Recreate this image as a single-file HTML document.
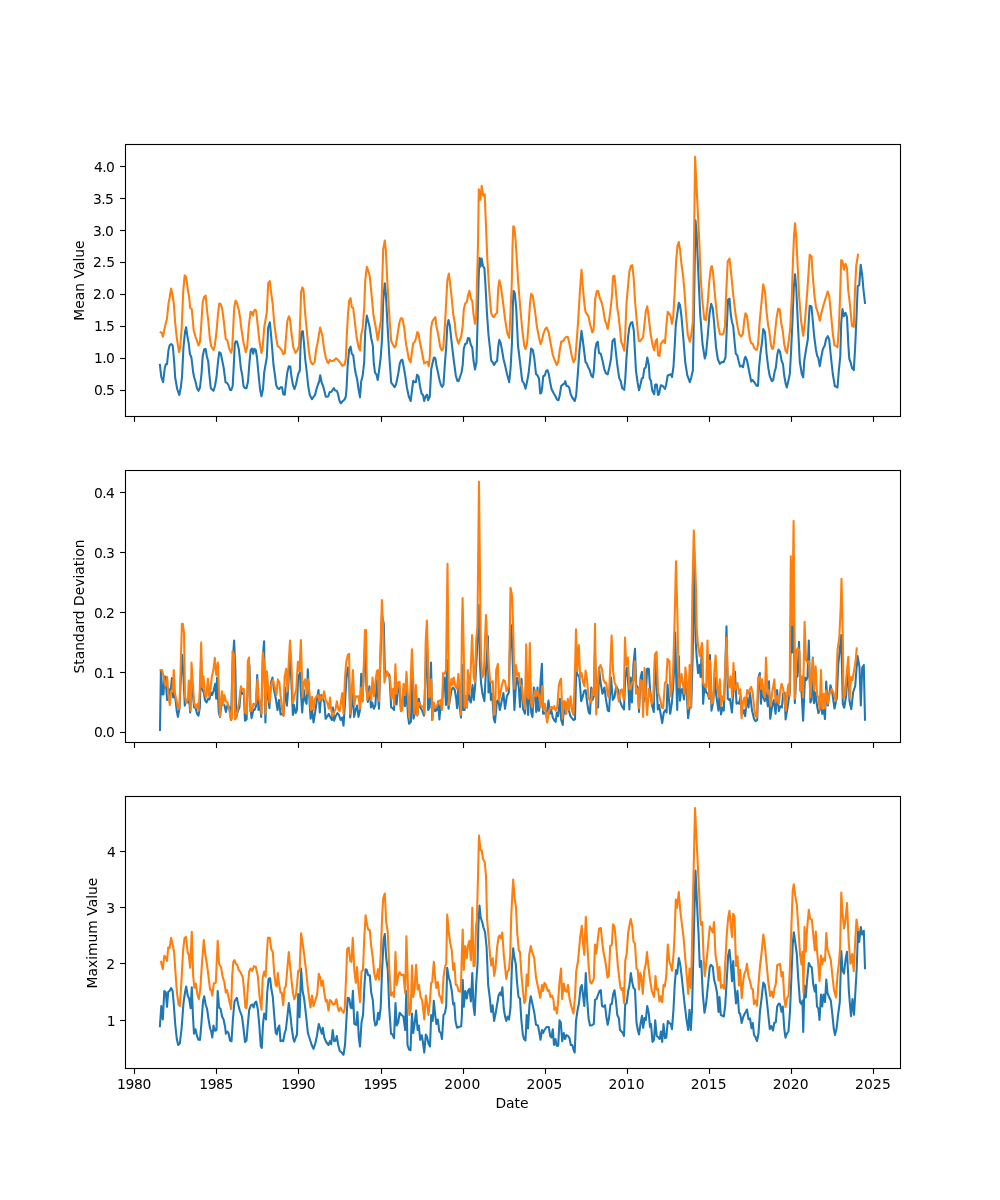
<!DOCTYPE html>
<html lang="en"><head><meta charset="utf-8"><title>Mean, Standard Deviation and Maximum Value by Date</title>
<style>html,body{margin:0;padding:0;background:#fff}body{width:1000px;height:1200px;overflow:hidden}</style></head>
<body>
<svg width="1000" height="1200" viewBox="0 0 1000 1200" style="display:block;font-family:'DejaVu Sans','Liberation Sans',sans-serif;font-size:13.89px">
<rect width="1000" height="1200" fill="#fff"/>
<clipPath id="c1"><rect x="125.5" y="144.5" width="775.0" height="272.0"/></clipPath>
<g clip-path="url(#c1)">
<polyline points="159.9,365.0 161.3,377.0 163.1,382.2 164.8,368.0 165.8,364.2 167.0,364.2 168.5,350.0 169.7,345.2 171.2,344.0 172.7,345.5 174.2,362.0 175.2,377.8 177.2,389.0 179.3,395.0 180.8,387.5 182.0,377.0 183.5,347.0 185.0,332.0 186.1,327.2 187.2,335.0 188.8,344.0 189.9,353.8 191.4,357.5 193.2,372.5 194.3,377.8 195.5,381.5 197.0,388.2 198.5,390.8 200.0,387.5 201.5,374.0 202.7,356.0 204.2,349.2 205.6,348.9 206.8,356.0 208.2,361.2 209.3,374.0 210.8,388.2 213.5,390.8 215.0,386.0 216.5,377.0 218.0,362.0 219.2,352.2 220.7,353.3 222.2,360.5 223.7,368.0 225.5,382.2 227.0,383.0 228.5,385.2 230.0,389.8 231.2,390.2 232.7,386.0 233.8,365.0 234.8,344.0 235.7,341.3 237.1,341.8 238.7,348.5 239.8,357.5 240.8,368.0 242.3,375.5 243.5,386.0 245.0,388.2 246.5,388.2 248.0,381.5 249.5,362.0 250.7,350.0 252.1,348.5 253.2,353.8 254.4,348.9 255.8,350.0 257.0,357.5 258.5,374.0 260.0,389.0 261.5,396.2 263.0,389.0 264.2,372.5 266.8,357.5 268.2,327.5 269.8,322.2 270.8,332.0 272.3,350.0 273.5,365.0 275.0,375.5 276.2,385.2 277.7,388.2 279.2,389.0 280.7,387.2 282.1,387.2 283.2,394.2 284.8,394.7 285.8,384.5 287.3,372.5 288.8,366.2 290.3,366.5 291.5,377.0 293.0,385.2 294.5,389.0 296.0,384.5 298.2,374.0 299.8,370.7 300.5,347.0 301.4,332.0 302.8,331.2 303.8,341.0 305.2,359.0 306.8,372.5 308.2,386.0 309.8,395.0 312.0,399.2 313.5,396.8 315.0,395.0 316.5,389.0 318.0,384.5 319.2,381.5 320.2,375.2 321.8,383.0 322.8,385.2 324.3,390.5 325.8,396.8 328.2,396.5 329.7,392.0 331.2,392.0 332.7,389.8 333.8,388.2 335.2,390.5 336.8,390.8 337.9,393.5 339.3,400.2 340.8,403.2 342.8,401.0 344.6,399.5 345.8,396.5 346.5,389.0 347.7,365.0 349.2,349.2 350.6,346.7 351.8,353.8 353.2,355.2 354.8,368.0 355.8,374.0 357.0,378.5 358.5,389.0 360.0,397.2 361.2,381.5 362.7,375.5 364.2,362.0 365.2,332.0 366.8,315.5 367.9,320.0 369.4,326.0 371.2,338.0 372.8,345.5 373.8,363.5 375.0,372.5 376.5,374.8 377.7,380.0 379.2,369.5 380.7,357.5 382.1,338.0 383.2,300.5 384.8,283.2 385.8,293.0 387.4,323.0 389.2,354.5 391.2,382.7 392.7,384.5 394.5,387.2 396.0,384.5 398.2,374.0 399.8,363.5 401.2,360.2 402.4,359.8 403.9,368.0 405.4,377.0 406.9,387.5 408.8,396.5 410.7,401.0 411.8,392.0 413.2,380.8 414.8,382.2 415.9,382.2 417.0,374.8 418.5,376.2 420.0,386.0 421.5,393.5 423.0,395.0 424.2,401.0 425.7,396.2 427.1,394.7 428.2,400.2 429.8,396.5 431.2,369.5 432.8,362.0 433.9,357.5 435.3,358.2 436.5,365.8 438.0,372.5 439.5,380.0 441.0,385.2 442.2,386.8 443.5,384.5 444.8,365.0 446.2,347.0 447.3,326.0 448.5,320.0 449.9,326.0 451.8,344.0 454.0,362.0 455.8,375.5 457.3,380.8 458.5,381.2 460.0,377.0 461.5,372.5 462.7,365.0 463.8,348.5 465.2,344.0 466.8,343.2 467.9,338.0 469.3,338.3 470.8,344.8 472.3,347.8 473.5,360.5 475.0,369.5 476.5,362.0 477.6,320.0 478.6,279.5 479.5,257.8 480.4,266.8 481.6,258.5 482.9,266.0 484.4,268.2 485.5,285.5 487.0,314.0 488.5,335.0 490.0,348.5 491.2,360.5 492.7,362.3 494.1,365.0 495.7,362.0 497.1,361.2 498.2,347.0 499.3,339.9 500.5,342.5 502.0,350.0 503.5,359.0 505.0,365.0 507.2,374.8 509.2,382.2 510.6,368.0 512.0,342.5 512.8,308.0 513.5,290.8 514.8,293.0 516.2,308.0 518.0,345.5 520.0,362.0 522.2,380.8 523.8,383.0 525.5,388.7 526.8,383.0 528.5,374.0 530.0,360.5 531.1,348.5 532.8,350.0 534.2,357.5 536.0,374.0 537.5,375.5 539.0,378.5 540.2,393.5 541.3,392.8 542.2,387.5 543.2,376.2 544.8,375.5 546.2,371.0 547.5,370.2 548.8,374.0 550.0,381.5 551.5,389.0 553.8,393.5 555.2,395.8 557.0,399.5 558.5,400.2 559.8,395.0 561.2,386.0 562.8,384.5 564.2,383.8 565.3,381.2 566.5,386.0 567.7,386.0 569.2,387.5 570.7,394.2 572.5,398.0 574.8,401.0 576.2,395.0 577.8,374.0 579.5,350.0 581.5,330.8 582.5,338.0 584.0,350.0 585.5,362.0 586.8,363.5 588.2,367.2 589.8,370.2 591.2,375.5 592.8,377.3 593.8,371.0 595.2,350.0 596.5,343.2 597.8,341.8 599.0,353.0 600.8,353.8 602.5,360.5 604.2,368.8 605.8,373.2 607.7,374.3 609.2,368.0 611.0,359.0 612.5,341.0 614.5,338.8 615.8,351.5 617.3,365.0 619.2,377.8 620.8,381.5 622.2,388.2 624.2,389.8 625.2,380.0 626.5,357.5 628.0,338.0 629.3,327.5 630.8,323.0 632.3,322.2 633.8,330.5 635.0,353.0 636.0,371.0 637.7,383.0 639.0,390.2 640.5,384.5 641.8,378.5 643.0,377.8 644.3,368.8 645.8,367.2 647.3,357.5 648.8,365.0 649.7,378.5 651.0,380.8 652.2,390.5 654.2,394.2 655.2,384.5 656.8,384.5 658.0,395.0 659.0,394.2 660.8,385.2 662.8,386.0 665.0,389.0 666.2,384.5 667.7,375.5 669.5,374.8 670.7,374.3 672.0,377.0 673.5,366.5 674.8,344.0 675.8,324.5 677.3,314.0 678.8,302.8 680.0,305.0 681.5,317.0 683.3,338.0 685.2,362.0 687.2,374.8 689.8,382.2 691.2,377.8 692.9,370.2 693.8,320.0 694.7,264.5 695.5,220.4 696.5,231.5 698.0,266.0 700.2,314.0 702.5,344.0 704.8,358.5 706.0,354.5 707.8,335.0 709.5,314.0 711.2,303.9 712.7,308.0 714.0,321.5 716.0,347.0 717.8,359.0 719.8,363.9 721.7,362.0 723.5,362.3 725.5,357.5 726.5,335.0 728.0,299.8 729.5,298.7 730.7,314.0 732.0,322.2 733.2,326.0 734.5,341.0 735.8,353.8 737.3,355.2 738.5,360.5 740.0,366.5 741.8,365.8 743.0,367.2 744.5,359.0 745.5,356.8 747.0,360.5 748.5,368.0 750.0,375.5 751.2,381.5 752.7,380.0 754.5,382.7 756.8,386.0 758.0,385.7 759.0,368.0 760.5,353.0 762.0,342.5 763.2,329.0 765.0,332.0 766.5,353.0 768.3,368.0 769.8,376.2 771.8,381.2 773.2,380.0 774.8,371.0 775.8,368.0 777.3,354.5 778.5,349.5 780.0,351.5 781.5,360.5 783.0,364.2 784.2,375.5 785.7,383.8 786.8,387.5 788.2,381.5 789.8,374.0 791.0,353.0 792.5,320.0 793.8,287.0 795.0,274.2 796.2,287.0 797.7,320.0 799.8,362.0 801.8,374.0 803.2,377.4 804.3,360.5 806.2,348.5 807.8,339.5 808.8,320.0 809.7,305.8 811.5,306.5 812.7,320.0 814.2,336.5 816.0,350.0 817.2,356.0 818.2,357.5 819.8,366.2 821.2,357.5 822.8,349.2 824.7,345.5 826.2,338.8 827.7,336.2 829.2,339.5 831.0,357.5 832.8,374.0 834.8,386.0 837.5,387.5 838.8,371.0 840.3,356.0 841.2,323.0 842.5,309.1 844.0,316.2 845.5,312.8 847.0,317.0 848.2,342.5 849.3,359.0 850.5,362.0 852.0,368.0 853.8,370.2 855.0,350.0 856.5,317.0 857.7,286.2 859.2,285.2 860.7,264.9 862.2,275.0 863.5,290.0 865.0,302.8" fill="none" stroke="#1f77b4" stroke-width="2.08" stroke-linejoin="round" stroke-linecap="square"/>
<polyline points="160.7,332.4 161.8,332.8 162.9,336.8 164.8,327.5 167.0,318.5 168.5,303.5 169.7,297.5 171.1,288.5 172.2,293.0 173.8,303.5 175.2,323.0 176.8,338.0 179.0,352.2 180.2,347.0 181.7,327.5 183.2,291.5 184.7,275.4 186.1,277.2 187.7,288.5 189.2,297.5 190.2,308.0 191.8,309.2 193.7,330.5 195.5,336.5 198.5,345.5 200.0,341.8 201.2,326.0 202.7,302.0 204.2,296.8 205.7,295.6 206.8,308.0 208.2,320.0 209.8,338.0 211.2,346.2 213.5,350.0 214.7,346.2 216.5,332.0 218.0,314.0 219.2,303.5 220.6,303.9 222.1,308.0 224.0,323.0 225.8,339.2 227.3,340.2 229.2,348.5 231.2,352.7 232.2,348.5 233.3,326.0 234.2,308.0 235.6,300.5 236.9,302.8 238.7,309.5 240.2,318.5 241.2,327.5 243.5,342.5 245.8,352.2 247.2,347.0 248.8,326.0 250.6,311.8 251.8,312.2 252.9,315.5 254.0,311.0 255.2,309.8 256.2,311.0 257.8,326.0 259.6,342.5 261.5,353.0 262.7,347.0 264.2,327.5 266.8,312.5 268.2,283.2 269.8,281.0 270.8,290.0 272.8,305.0 274.2,323.0 276.2,338.0 277.7,346.2 279.5,347.3 282.2,350.8 283.2,354.2 284.8,353.3 286.2,335.0 287.3,321.5 288.8,316.2 290.0,319.2 291.5,333.5 293.3,347.0 295.5,353.0 297.5,350.0 299.0,346.2 300.2,320.0 301.1,292.2 302.4,287.4 303.5,290.0 305.2,314.0 307.5,338.0 309.3,354.5 310.8,362.0 312.8,364.5 314.6,362.0 316.1,350.0 317.7,342.5 319.1,333.5 320.2,327.5 322.5,336.5 324.0,348.5 325.8,357.5 327.3,362.0 328.5,363.2 329.7,359.8 331.5,361.2 333.8,360.5 336.0,358.2 337.8,359.8 339.8,362.0 342.3,365.8 344.6,364.7 345.8,359.0 346.8,335.0 348.0,314.0 349.2,300.5 350.6,298.2 351.8,307.2 353.2,308.0 354.8,321.5 356.7,338.0 358.5,347.0 360.0,350.4 361.2,335.0 362.7,327.5 364.2,308.0 365.2,281.0 366.8,266.8 368.2,270.5 369.8,276.5 371.7,296.0 373.5,315.5 375.8,327.5 377.7,340.2 379.5,329.0 381.0,320.0 382.2,282.5 383.2,249.5 384.8,240.5 385.8,249.5 387.4,282.5 389.2,314.0 391.2,341.0 393.0,344.8 394.5,347.3 395.7,346.2 397.5,335.0 399.3,323.0 400.8,318.2 402.4,318.5 404.2,327.5 405.8,342.5 407.2,350.0 408.8,359.0 410.6,362.3 411.8,353.0 413.2,343.2 414.8,341.8 416.2,337.2 417.3,332.0 418.5,333.5 420.0,342.5 421.5,350.0 423.0,357.5 424.2,363.5 426.0,362.3 427.5,362.0 428.7,366.2 429.8,357.5 430.9,329.0 432.3,321.5 434.2,318.5 435.3,317.0 436.5,326.8 438.0,333.5 440.2,347.0 441.8,350.4 443.2,348.5 444.8,327.5 446.2,302.0 447.3,281.0 448.8,273.5 450.2,284.0 451.8,299.0 453.2,314.0 454.8,323.0 455.8,333.5 457.3,340.2 458.5,343.7 460.0,339.5 461.2,336.5 462.7,326.0 463.8,309.5 465.2,303.5 466.8,302.0 468.2,294.5 469.4,290.8 470.8,298.2 472.3,301.2 473.5,314.0 475.0,323.8 476.2,317.0 477.2,275.0 478.0,243.9 478.8,189.3 480.4,199.6 481.7,185.9 483.1,195.7 484.7,194.2 486.7,243.9 487.4,260.0 489.2,290.0 491.2,313.2 493.0,316.7 494.1,317.0 495.7,314.0 497.1,312.8 498.2,288.5 499.4,280.2 500.8,286.2 502.8,300.5 505.0,318.5 507.2,332.8 509.2,338.0 510.2,320.0 511.8,282.5 512.6,243.9 513.3,226.2 514.3,227.2 515.5,239.0 516.2,249.5 518.0,279.5 520.0,305.0 522.2,329.0 524.2,345.5 525.5,349.2 527.0,344.0 528.7,323.0 530.0,303.5 531.1,293.8 532.8,296.0 535.0,311.0 536.8,326.0 538.8,336.5 540.5,344.0 542.0,340.2 543.5,333.5 545.2,329.0 546.7,327.5 548.5,332.0 550.8,344.0 552.7,354.5 554.2,359.0 556.8,365.0 558.2,362.0 559.8,350.0 561.2,341.8 563.5,340.7 565.0,338.0 566.5,336.8 568.0,337.2 569.8,345.5 571.8,356.0 573.5,362.3 575.2,359.0 576.7,341.0 578.2,320.0 580.0,290.0 581.5,269.8 582.7,285.5 584.5,305.0 585.5,311.8 586.8,314.0 588.2,315.5 590.2,324.5 592.3,332.4 593.5,330.5 594.0,323.0 595.2,299.0 596.8,291.2 598.2,290.8 599.8,298.2 602.0,303.5 603.5,311.0 605.0,320.8 606.2,323.0 607.7,329.0 609.2,320.0 611.0,305.0 612.2,293.0 613.0,276.5 614.5,275.8 615.8,290.0 617.3,308.0 618.5,315.5 620.0,329.0 621.2,341.8 622.7,345.5 624.2,350.8 625.2,335.0 626.5,303.5 627.8,288.5 629.3,272.0 630.8,266.0 632.3,265.2 633.8,279.5 635.0,300.5 636.8,321.5 638.8,341.0 640.2,341.3 641.8,338.8 643.0,337.7 644.3,326.0 645.8,311.0 647.3,306.2 648.8,318.5 650.8,335.0 652.7,345.5 654.2,350.4 655.7,341.0 657.0,339.2 658.0,355.2 659.5,356.0 660.8,344.0 662.3,341.8 663.8,340.2 665.0,343.2 666.2,327.5 667.7,311.8 669.5,314.0 670.7,316.2 671.9,323.8 673.2,317.0 674.8,290.0 676.2,260.0 677.5,245.8 678.8,242.0 680.0,249.5 681.5,264.5 683.0,275.0 684.5,291.5 686.0,314.0 687.8,335.0 689.8,341.8 691.2,335.0 692.8,323.0 693.2,308.0 693.8,260.0 695.1,156.7 699.4,243.9 700.0,260.0 701.0,282.5 702.5,302.0 704.3,319.2 706.0,320.0 707.8,302.0 709.2,282.5 710.8,268.2 711.8,266.0 713.0,272.0 714.5,290.0 716.8,314.0 718.2,326.0 720.0,334.2 722.0,334.6 723.5,333.5 725.0,326.0 726.2,293.0 727.7,261.5 729.5,258.5 731.0,272.0 733.2,294.5 735.5,314.0 737.8,327.5 739.2,334.2 741.3,336.5 742.8,334.2 744.3,320.0 745.5,313.2 747.0,315.8 748.5,329.0 750.0,339.5 751.2,343.2 752.7,343.7 754.2,348.2 756.0,349.7 757.2,349.2 758.2,342.5 759.8,320.0 761.7,300.5 763.2,284.4 765.0,291.5 766.5,311.0 768.0,324.5 769.2,330.5 771.0,345.5 772.2,348.9 773.2,348.5 774.8,335.0 776.5,318.5 778.2,308.8 779.7,309.5 781.2,323.0 782.7,330.5 784.2,344.0 785.7,350.8 787.0,353.0 788.7,341.0 790.2,329.0 791.7,299.0 793.0,260.0 794.0,236.0 795.0,223.2 796.2,236.0 797.5,263.0 799.0,294.5 801.0,320.0 803.2,335.8 804.8,323.0 806.7,299.0 808.5,273.5 809.7,254.8 811.5,256.2 812.7,275.0 814.5,296.0 816.0,307.2 817.8,312.5 819.8,320.8 821.2,314.0 823.5,305.0 825.8,297.5 827.7,291.5 829.2,296.0 831.0,314.0 832.8,333.5 834.5,345.5 836.2,345.8 837.5,347.3 838.8,329.0 840.3,290.0 841.2,260.0 842.4,260.8 843.9,269.8 845.5,263.8 847.0,268.2 848.2,290.0 850.0,305.0 852.0,326.0 853.8,326.8 855.0,290.0 856.2,266.0 858.0,254.8" fill="none" stroke="#ff7f0e" stroke-width="2.08" stroke-linejoin="round" stroke-linecap="square"/>
</g>
<g stroke="#000" stroke-width="1.11">
<line x1="134.5" y1="416.5" x2="134.5" y2="421.9"/>
<line x1="216.5" y1="416.5" x2="216.5" y2="421.9"/>
<line x1="298.5" y1="416.5" x2="298.5" y2="421.9"/>
<line x1="381.5" y1="416.5" x2="381.5" y2="421.9"/>
<line x1="463.5" y1="416.5" x2="463.5" y2="421.9"/>
<line x1="545.5" y1="416.5" x2="545.5" y2="421.9"/>
<line x1="627.5" y1="416.5" x2="627.5" y2="421.9"/>
<line x1="709.5" y1="416.5" x2="709.5" y2="421.9"/>
<line x1="791.5" y1="416.5" x2="791.5" y2="421.9"/>
<line x1="873.5" y1="416.5" x2="873.5" y2="421.9"/>
<line x1="120.1" y1="166.5" x2="125.5" y2="166.5"/>
<line x1="120.1" y1="198.5" x2="125.5" y2="198.5"/>
<line x1="120.1" y1="230.5" x2="125.5" y2="230.5"/>
<line x1="120.1" y1="262.5" x2="125.5" y2="262.5"/>
<line x1="120.1" y1="294.5" x2="125.5" y2="294.5"/>
<line x1="120.1" y1="326.5" x2="125.5" y2="326.5"/>
<line x1="120.1" y1="358.5" x2="125.5" y2="358.5"/>
<line x1="120.1" y1="390.5" x2="125.5" y2="390.5"/>
<rect x="125.5" y="144.5" width="775.0" height="272.0" fill="none"/>
</g>
<text x="114.30" y="172" text-anchor="end" letter-spacing="-0.55">4.0</text>
<text x="113.30" y="204" text-anchor="end" letter-spacing="-0.55">3.5</text>
<text x="113.30" y="236" text-anchor="end" letter-spacing="-0.55">3.0</text>
<text x="115.15" y="267" text-anchor="end" letter-spacing="0.05">2.5</text>
<text x="114.90" y="299" text-anchor="end" letter-spacing="-0.03">2.0</text>
<text x="114.30" y="331" text-anchor="end" letter-spacing="-0.55">1.5</text>
<text x="114.30" y="363" text-anchor="end" letter-spacing="-0.55">1.0</text>
<text x="114.30" y="395" text-anchor="end" letter-spacing="-0.55">0.5</text>
<text transform="translate(84,280.5) rotate(-90)" text-anchor="middle">Mean Value</text>
<clipPath id="c2"><rect x="125.5" y="470.5" width="775.0" height="272.0"/></clipPath>
<g clip-path="url(#c2)">
<polyline points="160.0,730.0 160.9,670.0 162.5,694.4 163.5,694.4 164.4,676.2 165.4,677.5 167.1,700.0 168.1,697.5 169.8,690.0 171.0,687.5 171.9,678.1 173.1,697.5 174.4,693.8 175.6,700.0 176.6,710.0 177.9,716.9 179.4,708.8 180.9,677.5 182.2,655.0 183.5,677.5 184.8,705.6 186.2,700.0 187.8,702.5 189.0,696.2 190.2,712.5 191.5,680.0 192.5,690.0 194.1,707.5 195.6,708.1 197.1,713.8 198.5,715.6 199.8,707.5 201.2,660.0 202.2,688.8 203.8,692.5 205.0,700.0 206.5,702.5 208.1,698.8 209.4,699.4 210.9,692.5 212.2,695.0 213.8,690.0 215.2,683.8 216.2,698.8 217.1,677.5 218.8,712.5 220.0,716.9 221.6,702.5 223.1,705.0 224.4,705.0 225.9,711.9 227.5,705.0 229.4,707.5 231.0,720.0 232.5,665.0 234.1,640.6 235.4,670.0 236.2,717.5 237.8,711.2 239.4,707.5 240.9,690.0 242.1,693.8 243.8,692.5 245.0,720.6 246.6,719.4 248.1,677.5 249.4,665.0 250.6,710.0 251.6,718.1 253.4,710.0 254.6,710.0 256.0,706.2 257.2,675.0 258.5,710.0 260.0,702.5 261.2,716.9 262.9,655.0 264.1,641.2 265.4,722.5 266.9,677.5 268.1,696.2 269.4,708.1 271.0,682.5 272.5,677.5 273.8,688.8 275.6,697.5 277.5,710.0 279.0,700.0 280.6,714.4 282.2,713.8 283.5,715.6 285.0,687.5 286.9,705.6 288.1,690.0 289.8,655.0 291.2,677.5 292.9,715.0 294.0,705.0 295.6,713.1 296.9,710.0 298.1,677.5 300.0,672.5 300.6,687.5 302.2,712.5 303.8,690.0 305.0,700.0 306.6,703.8 307.8,669.4 309.1,693.8 310.6,718.8 312.1,710.0 313.5,722.5 315.0,713.1 316.5,702.5 318.5,690.0 319.8,712.5 321.2,695.0 322.8,698.8 324.4,702.5 325.6,718.8 327.5,716.2 328.8,713.8 330.4,717.5 331.9,720.0 332.9,707.5 334.1,720.6 335.6,716.2 337.5,713.1 339.0,715.0 340.6,720.0 342.1,717.5 343.5,725.6 345.0,702.5 346.5,677.5 347.8,667.5 349.1,677.5 350.2,717.5 351.5,706.2 352.8,692.5 354.1,716.9 355.6,710.0 357.1,705.6 358.5,716.9 360.0,710.0 361.2,673.8 362.5,701.2 363.8,671.2 365.2,643.8 366.5,690.0 367.8,701.9 369.4,686.2 370.9,707.5 372.2,702.5 373.8,708.8 375.4,705.0 376.9,680.0 379.0,708.8 380.4,660.0 381.9,615.0 383.8,623.8 385.0,677.5 387.1,672.5 389.4,675.0 391.2,707.5 392.8,708.1 394.0,710.0 395.4,687.5 396.6,704.4 398.1,687.5 399.6,688.8 400.9,710.0 402.2,707.5 403.5,688.8 405.0,706.2 406.5,688.8 407.9,715.0 409.1,723.8 410.9,721.9 412.1,677.5 413.5,718.8 414.8,713.8 416.2,696.2 417.5,715.0 418.8,698.8 420.4,707.5 421.9,710.0 424.0,715.6 425.4,677.5 426.9,632.5 428.1,710.0 429.6,707.5 431.0,662.5 432.2,720.0 433.8,705.0 435.2,711.2 436.9,710.0 438.1,701.2 439.4,719.4 440.9,702.5 442.2,705.0 443.5,677.5 444.4,677.5 446.0,705.0 447.1,660.0 448.5,708.8 450.0,698.8 451.5,690.0 453.1,687.5 454.8,690.0 456.2,698.8 457.1,708.1 458.4,686.2 459.6,706.2 461.0,717.5 462.2,665.0 463.1,710.0 464.6,710.0 465.6,696.2 466.9,707.5 468.1,690.0 469.6,700.0 470.9,702.5 472.5,685.0 473.8,700.0 475.2,685.0 476.9,652.5 478.8,605.0 480.0,665.0 481.0,682.5 482.5,693.8 484.4,701.2 485.6,677.5 486.9,655.0 487.9,636.2 488.5,692.5 490.0,680.0 490.9,700.0 492.2,693.8 493.8,718.8 495.0,722.5 496.9,701.2 498.4,700.0 499.8,710.0 501.9,700.0 503.4,693.1 505.0,708.8 506.9,696.2 508.8,692.5 509.8,652.5 511.4,625.4 512.8,665.0 514.4,710.0 515.9,685.0 517.2,677.5 518.8,687.5 520.0,706.9 521.5,678.8 523.1,708.8 525.0,713.8 526.2,677.5 528.1,715.0 529.8,677.5 531.2,712.5 532.5,716.9 533.8,687.5 535.0,692.5 536.2,711.9 537.5,687.5 538.5,710.6 539.1,710.6 540.6,680.0 541.9,663.8 543.1,713.8 544.8,712.5 546.0,715.0 547.2,710.0 548.5,700.6 550.0,713.8 551.2,710.0 552.8,717.5 554.1,720.0 555.6,721.9 556.9,712.5 558.1,716.2 560.0,698.8 561.2,720.0 562.8,725.0 564.0,702.5 565.6,713.8 567.2,702.5 568.8,710.0 570.4,716.2 571.9,718.1 573.5,720.0 575.0,719.4 576.2,671.2 577.8,675.0 579.4,677.5 581.2,701.2 582.5,697.5 584.0,691.2 585.6,690.0 587.1,702.5 588.8,712.5 590.0,713.8 591.2,687.5 592.5,700.0 593.8,696.2 595.0,652.5 596.6,707.5 598.1,707.5 599.0,667.5 600.6,682.5 602.5,693.8 604.4,687.5 605.9,698.8 607.8,710.6 609.1,711.2 611.0,677.5 612.8,700.0 614.4,697.5 616.2,686.2 618.1,690.0 620.0,701.2 621.9,706.2 624.0,709.4 625.2,677.5 626.9,667.5 628.5,687.5 629.4,709.4 630.6,677.5 631.9,702.5 633.4,665.0 635.0,648.8 636.2,685.0 637.8,687.5 639.0,711.9 640.6,677.5 641.9,671.9 643.4,702.5 644.6,697.5 645.6,698.8 647.1,668.8 648.8,668.8 650.0,688.8 651.9,705.0 653.8,711.9 655.0,655.0 656.2,677.5 657.8,709.4 659.0,705.0 660.6,713.8 662.2,723.1 663.8,712.5 665.4,710.0 666.6,712.5 667.5,684.4 668.8,697.5 670.2,713.8 671.9,702.5 673.1,687.5 674.4,665.0 675.2,632.5 676.2,677.5 677.2,710.0 678.8,656.2 680.0,700.6 681.2,690.0 682.5,688.8 684.0,699.4 685.4,677.5 686.9,696.2 688.1,718.1 689.6,707.5 691.2,707.5 692.8,652.5 694.1,550.0 695.6,640.0 696.6,656.2 698.1,673.1 699.4,665.0 700.6,676.9 702.1,643.8 703.1,703.8 704.6,685.0 706.2,692.5 707.8,693.8 709.0,698.8 710.0,655.0 711.5,710.6 713.1,702.5 714.8,677.5 716.2,695.0 718.5,710.6 719.8,690.0 721.0,714.4 722.5,707.5 723.8,710.6 725.0,677.5 726.5,626.2 727.8,698.8 729.1,700.0 730.0,698.8 731.9,712.5 733.5,690.0 735.0,671.9 736.5,703.8 737.9,702.5 739.1,703.8 740.6,696.2 741.9,715.0 743.8,710.0 745.2,716.2 746.9,697.5 748.5,707.5 750.0,692.5 751.9,710.0 754.0,718.8 755.6,721.2 757.2,720.0 758.5,677.5 759.8,673.1 760.9,703.8 762.1,690.0 763.5,697.5 764.8,701.2 766.2,692.5 767.8,706.2 769.0,681.2 770.2,718.8 771.9,707.5 773.8,700.0 775.6,713.8 777.1,690.0 778.8,711.2 780.4,706.2 781.9,707.5 783.1,693.8 784.6,692.5 785.6,719.4 787.1,710.0 788.8,698.8 790.0,690.0 791.0,615.0 792.2,652.5 793.6,590.0 794.8,703.1 796.2,677.5 797.5,676.2 799.0,641.9 800.4,690.0 801.6,692.5 803.1,720.6 805.0,677.5 806.2,680.0 807.5,677.5 808.8,640.6 810.4,702.5 811.6,700.0 812.9,657.5 814.1,703.1 815.6,692.5 816.9,705.0 818.4,713.1 819.6,710.0 821.0,702.5 822.2,713.8 823.8,710.0 825.0,719.0 826.2,681.5 827.8,705.5 830.5,685.2 832.2,692.0 834.5,708.5 836.8,698.0 838.2,665.0 839.8,650.0 841.2,635.0 842.8,704.0 844.2,707.8 846.2,695.0 848.0,665.0 849.5,701.0 851.3,709.2 853.2,692.0 855.2,686.0 857.5,656.0 859.5,667.2 860.8,705.5 862.2,668.0 863.8,665.0 865.0,719.8" fill="none" stroke="#1f77b4" stroke-width="2.08" stroke-linejoin="round" stroke-linecap="square"/>
<polyline points="160.6,670.0 162.1,670.0 163.5,676.2 165.0,685.0 166.2,685.6 167.1,676.9 168.5,696.2 169.8,705.0 171.0,692.5 172.5,691.9 173.8,670.0 175.0,693.8 176.5,700.0 177.9,707.5 179.4,708.8 180.6,670.0 181.9,623.8 182.8,623.8 184.0,632.5 185.0,696.2 186.2,702.5 187.8,700.0 188.8,680.6 189.8,692.5 190.6,710.6 191.5,662.5 192.8,682.5 194.1,702.5 195.6,707.5 197.5,703.8 198.5,710.6 199.8,690.0 201.2,642.5 202.2,687.5 203.5,676.2 204.8,693.8 206.2,697.5 207.9,678.8 209.1,696.2 210.6,687.5 211.9,676.2 213.4,670.0 214.8,657.9 216.2,675.0 217.9,662.5 219.0,693.8 220.0,716.2 221.9,691.2 223.1,705.0 224.4,695.0 225.9,701.2 227.5,702.5 229.4,710.0 231.0,720.0 231.9,718.8 232.5,651.2 234.1,655.0 235.0,719.4 236.2,717.5 237.5,710.0 239.0,702.5 240.9,686.2 242.1,690.0 243.8,688.8 245.0,712.5 246.9,713.8 247.8,661.2 249.0,657.5 250.2,711.2 251.9,710.6 253.4,703.8 254.6,705.0 256.0,702.5 257.5,679.4 258.8,700.0 260.0,700.6 261.5,713.8 262.9,652.5 264.4,665.0 265.6,713.8 266.9,671.2 268.1,687.5 269.6,702.5 271.0,685.0 273.1,680.0 274.8,687.5 276.5,695.0 277.8,679.4 279.4,682.5 280.6,696.2 282.2,710.0 283.5,715.6 284.6,677.5 286.2,668.8 287.5,691.2 288.8,661.2 290.0,640.6 291.5,665.0 292.9,703.1 294.4,696.2 296.2,690.0 297.9,661.9 299.4,671.2 300.9,640.0 302.5,697.5 303.8,682.5 305.2,679.4 306.6,693.8 308.1,679.4 309.8,696.2 310.9,710.0 312.1,696.9 313.5,710.0 315.0,698.8 316.5,696.2 318.1,695.0 319.4,701.2 320.9,696.2 322.5,698.8 324.1,691.2 325.6,700.0 327.2,702.5 328.8,708.8 330.0,697.5 331.2,710.0 332.5,716.2 334.0,712.5 335.6,708.8 336.9,701.2 338.5,710.0 339.8,711.2 341.2,700.0 342.2,693.1 343.5,713.8 345.0,677.5 346.2,662.5 347.8,655.0 349.1,653.8 350.2,713.8 351.5,696.2 352.9,670.0 354.4,705.0 355.6,696.2 357.1,696.9 358.5,696.2 360.0,708.8 361.2,687.5 362.5,701.2 363.8,665.0 365.0,630.0 366.0,630.0 367.2,700.0 368.8,693.8 370.0,690.0 371.2,700.0 372.5,677.5 374.0,696.2 375.6,680.0 376.9,671.2 377.8,670.0 379.0,701.2 380.4,652.5 381.9,600.0 383.1,627.5 384.4,682.5 385.6,676.2 387.1,671.2 388.5,676.2 390.0,677.5 391.5,698.8 393.1,688.8 394.1,705.0 395.4,664.4 396.6,693.8 398.1,682.5 399.6,681.9 400.9,711.2 402.2,710.0 403.5,683.8 405.0,695.0 406.5,671.9 407.9,696.2 409.1,717.5 410.6,683.8 411.9,649.4 413.1,677.5 414.4,713.8 415.9,685.0 417.2,715.6 418.8,702.5 420.4,705.0 421.9,706.2 423.5,707.5 424.6,713.8 425.6,643.8 426.9,620.6 428.1,665.0 429.0,697.5 430.4,695.0 431.2,679.4 432.5,720.0 433.8,702.5 435.2,707.5 436.9,706.2 438.8,701.2 440.6,700.0 441.9,710.0 443.1,673.1 444.6,673.8 446.0,670.0 447.5,563.8 449.0,705.0 450.4,686.2 451.5,678.8 452.5,685.0 453.8,677.5 455.2,686.2 456.9,688.8 458.4,673.8 459.6,690.0 461.0,715.0 461.9,627.5 462.6,598.1 463.8,652.5 464.6,707.5 465.6,696.2 466.9,707.5 467.8,670.0 469.4,693.8 470.9,665.0 472.1,635.0 473.8,677.5 475.0,682.5 476.2,640.0 477.4,627.5 479.0,481.9 480.6,633.8 481.2,658.8 482.2,677.5 483.8,675.0 485.0,640.0 486.0,615.0 487.2,642.5 488.8,665.0 490.2,681.2 491.5,682.5 492.8,681.2 494.0,715.0 495.0,713.8 496.2,670.0 497.9,664.1 499.0,700.0 500.4,693.8 501.9,685.0 503.4,680.0 505.0,681.2 506.5,691.2 507.6,688.8 509.0,685.6 510.5,587.8 511.4,591.9 512.2,597.8 513.5,640.0 514.4,688.8 515.9,665.0 517.2,675.0 518.8,673.1 520.0,683.8 521.9,686.2 523.1,700.0 525.0,708.8 526.2,644.4 527.5,696.2 528.5,698.8 529.8,643.1 531.0,702.5 532.1,707.5 533.5,698.8 535.0,690.0 536.2,696.2 537.9,691.2 539.1,696.2 540.6,707.5 542.1,686.2 543.5,710.0 544.8,703.8 546.0,715.0 547.2,722.5 548.8,712.5 550.2,708.1 551.6,706.9 552.9,708.8 554.1,706.2 555.6,710.6 557.2,707.5 558.8,686.2 559.8,681.2 561.0,678.8 562.5,718.8 563.8,701.2 565.0,701.2 566.2,713.8 567.8,698.8 569.0,710.0 570.6,696.2 572.1,710.6 573.5,715.0 574.8,677.5 576.0,629.4 577.2,671.2 578.8,645.0 580.2,677.5 581.6,673.1 583.1,682.5 584.4,686.2 585.6,670.6 587.1,680.0 588.5,697.5 590.0,701.2 591.2,702.5 592.5,688.8 593.8,695.0 595.0,623.8 596.2,714.4 597.5,690.0 598.8,670.0 600.4,665.0 601.9,668.8 603.5,680.0 605.0,683.1 606.2,682.5 607.5,693.8 608.8,697.5 610.4,665.0 611.6,635.6 613.1,671.2 614.6,682.5 616.0,686.2 617.5,693.8 618.8,701.2 620.6,690.0 621.9,689.4 623.8,700.0 625.0,637.5 626.2,665.0 627.8,657.5 629.4,688.8 630.6,689.4 631.9,683.1 633.4,681.2 634.8,661.2 636.0,693.8 637.5,688.8 639.0,708.1 640.2,680.0 641.9,681.2 643.1,716.9 644.6,668.1 645.9,695.0 647.1,715.0 648.8,688.8 650.2,693.8 651.9,703.8 653.1,701.2 655.0,654.4 656.6,651.9 658.1,692.5 660.0,698.8 661.9,707.5 663.1,708.1 665.0,682.5 666.2,682.5 667.5,658.8 669.4,661.2 670.6,696.2 672.1,687.5 673.2,667.5 674.6,621.2 676.0,561.2 677.4,615.0 678.8,687.5 680.4,682.5 681.5,673.8 683.1,685.0 684.4,693.8 685.4,667.5 686.9,682.5 688.1,708.8 689.6,665.0 690.9,707.5 691.8,640.0 692.4,590.0 693.8,530.6 695.4,571.2 696.1,590.0 696.6,627.5 698.1,646.2 699.8,656.2 700.6,651.2 701.9,643.1 703.1,682.5 704.8,686.2 706.2,687.5 707.5,640.6 709.0,697.5 710.0,660.6 711.5,703.8 713.1,702.5 714.4,670.0 715.6,655.6 717.1,685.0 718.8,696.9 719.8,679.4 721.2,706.2 722.5,696.2 723.8,700.0 725.2,670.0 726.5,637.5 727.8,677.5 729.1,687.5 730.6,676.2 732.1,697.5 733.5,663.1 734.8,690.0 736.2,687.5 737.5,683.1 739.0,693.8 740.4,689.4 741.6,718.1 743.1,701.2 744.4,697.5 745.6,707.5 747.1,690.0 748.8,693.8 750.0,688.8 751.2,686.9 752.8,693.8 754.4,710.0 755.6,716.2 756.9,717.5 758.1,678.8 759.8,676.2 760.9,688.8 762.1,679.4 763.5,693.8 764.8,697.5 766.0,657.5 767.5,693.8 768.8,690.0 770.6,706.2 772.5,690.0 774.4,679.4 775.6,702.5 777.1,696.2 778.8,703.8 780.4,690.0 781.6,683.8 783.1,688.8 784.6,702.5 785.9,710.6 787.1,693.8 788.4,684.4 789.6,696.2 790.8,556.2 792.2,625.0 793.6,521.0 795.0,698.8 796.5,650.0 798.1,648.1 799.4,651.2 800.4,691.2 801.9,676.2 803.1,697.5 804.6,621.9 806.0,660.0 807.5,662.5 809.0,661.2 810.4,697.5 811.6,677.5 812.9,658.1 814.1,690.0 815.6,666.2 817.1,695.0 818.5,697.5 819.6,710.0 821.0,670.0 822.2,708.8 823.8,693.8 824.8,708.5 826.2,690.5 827.8,704.0 829.2,695.0 831.5,689.0 833.3,692.0 835.7,701.0 837.5,650.0 839.3,638.0 840.8,605.0 841.5,578.8 842.8,635.0 843.5,698.0 845.0,695.0 846.5,675.5 848.3,656.8 849.8,698.0 851.0,677.0 852.5,680.0 854.0,671.0 855.5,662.0 856.7,648.5" fill="none" stroke="#ff7f0e" stroke-width="2.08" stroke-linejoin="round" stroke-linecap="square"/>
</g>
<g stroke="#000" stroke-width="1.11">
<line x1="134.5" y1="742.5" x2="134.5" y2="747.9"/>
<line x1="216.5" y1="742.5" x2="216.5" y2="747.9"/>
<line x1="298.5" y1="742.5" x2="298.5" y2="747.9"/>
<line x1="381.5" y1="742.5" x2="381.5" y2="747.9"/>
<line x1="463.5" y1="742.5" x2="463.5" y2="747.9"/>
<line x1="545.5" y1="742.5" x2="545.5" y2="747.9"/>
<line x1="627.5" y1="742.5" x2="627.5" y2="747.9"/>
<line x1="709.5" y1="742.5" x2="709.5" y2="747.9"/>
<line x1="791.5" y1="742.5" x2="791.5" y2="747.9"/>
<line x1="873.5" y1="742.5" x2="873.5" y2="747.9"/>
<line x1="120.1" y1="732.5" x2="125.5" y2="732.5"/>
<line x1="120.1" y1="672.5" x2="125.5" y2="672.5"/>
<line x1="120.1" y1="612.5" x2="125.5" y2="612.5"/>
<line x1="120.1" y1="552.5" x2="125.5" y2="552.5"/>
<line x1="120.1" y1="492.5" x2="125.5" y2="492.5"/>
<rect x="125.5" y="470.5" width="775.0" height="272.0" fill="none"/>
</g>
<text x="114.30" y="737" text-anchor="end" letter-spacing="-0.55">0.0</text>
<text x="114.30" y="678" text-anchor="end" letter-spacing="-0.55">0.1</text>
<text x="114.30" y="618" text-anchor="end" letter-spacing="-0.55">0.2</text>
<text x="114.30" y="558" text-anchor="end" letter-spacing="-0.55">0.3</text>
<text x="114.30" y="498" text-anchor="end" letter-spacing="-0.55">0.4</text>
<text transform="translate(84,606.5) rotate(-90)" text-anchor="middle">Standard Deviation</text>
<clipPath id="c3"><rect x="125.5" y="796.5" width="775.0" height="272.0"/></clipPath>
<g clip-path="url(#c3)">
<polyline points="159.9,1026.2 161.3,1006.0 162.8,1019.5 164.3,991.0 165.8,992.5 167.0,1006.8 168.2,991.8 169.6,991.0 171.1,988.0 172.6,991.0 173.8,1004.5 175.2,1024.0 176.8,1039.0 178.2,1045.0 179.8,1043.5 181.6,1028.5 183.5,1003.0 185.0,992.5 186.2,986.5 187.7,995.5 189.1,998.5 190.6,1008.2 191.8,987.2 192.9,1015.0 194.0,1033.8 195.5,1029.2 197.0,1036.0 198.5,1039.8 200.0,1039.8 201.5,1022.5 203.0,1001.5 204.2,996.2 205.6,1004.5 207.1,1009.0 208.6,1019.5 210.1,1028.5 211.2,1031.5 212.3,1037.5 213.5,1025.5 215.0,1030.8 216.5,1030.0 217.7,991.0 219.1,1007.5 220.6,1009.0 222.1,1016.5 223.6,1019.5 225.1,1027.0 225.9,1033.8 227.4,1031.5 228.5,1033.0 230.0,1040.5 231.5,1041.2 233.0,1018.0 234.5,1001.5 236.8,997.8 238.2,1004.5 239.8,1010.5 242.0,1016.5 243.5,1028.5 245.0,1042.0 246.5,1040.5 248.0,1022.5 249.2,1009.8 251.0,1005.2 252.5,1004.5 253.6,1007.5 254.8,1003.0 256.2,1001.5 257.8,1009.0 259.2,1024.0 260.8,1046.5 261.8,1048.0 263.0,1024.0 264.2,1013.5 266.0,1019.5 267.2,992.5 268.6,979.0 270.1,978.2 271.2,988.0 272.8,997.0 274.2,1015.0 275.7,1033.0 276.8,1034.5 277.8,1028.5 279.3,1025.5 280.5,1041.2 282.0,1040.5 283.2,1041.2 284.7,1033.0 285.8,1030.0 287.2,1018.0 288.8,1003.0 290.2,1013.5 291.8,1028.5 293.2,1038.2 294.3,1041.7 295.8,1037.5 297.0,1034.5 298.2,994.0 299.6,1017.2 301.1,968.5 302.6,991.0 304.1,998.5 306.0,1015.0 307.9,1033.0 309.8,1039.0 311.7,1045.0 313.5,1048.8 315.3,1043.5 316.9,1036.0 318.8,1024.0 320.2,1028.5 321.8,1033.8 322.8,1027.8 324.3,1037.5 326.2,1042.0 328.5,1045.0 330.0,1041.2 331.2,1044.2 332.7,1030.0 334.1,1041.2 335.6,1040.5 336.8,1036.0 338.2,1045.0 339.8,1051.0 341.7,1052.5 343.5,1054.8 345.0,1045.0 346.5,1018.0 347.7,997.8 349.2,998.5 350.7,1007.5 351.8,1008.2 352.9,990.7 354.3,1024.0 356.2,1024.8 357.4,1012.0 358.8,1037.5 360.0,1046.5 361.5,1022.5 363.0,1015.0 364.5,985.0 365.6,969.2 366.8,970.0 368.2,975.2 369.8,975.2 371.2,992.5 372.8,1000.0 374.2,1019.5 375.4,1025.5 376.8,1024.0 378.0,1012.8 379.2,1019.5 380.7,1007.5 382.1,970.0 383.6,940.0 384.8,934.0 386.2,958.0 387.8,970.0 389.2,1007.5 391.0,1033.8 392.5,1034.5 394.0,1038.2 395.5,1003.0 396.7,1025.5 398.2,1022.5 399.6,1012.8 401.5,1015.0 403.4,1016.5 405.2,1030.0 406.3,991.0 407.5,1045.0 409.0,1049.5 410.5,1050.2 412.0,1013.5 413.2,1033.0 414.6,1024.0 416.1,1010.5 417.6,1030.0 418.8,1025.5 420.2,1039.8 421.8,1035.2 422.9,1042.0 424.3,1052.5 425.8,1034.5 427.0,1036.8 428.5,1043.5 430.0,1046.5 431.2,1015.0 432.7,1021.0 433.8,1000.8 435.2,1015.0 436.4,1024.0 437.8,1019.5 439.3,1031.5 440.8,1033.0 442.0,1039.0 443.5,1015.0 445.0,1012.8 446.2,1006.0 447.2,967.8 448.8,977.5 450.2,982.0 451.8,991.0 453.2,1004.5 454.3,1003.0 455.5,1021.0 457.0,1027.8 458.9,1027.0 461.2,1026.2 461.9,1015.0 462.7,979.8 463.8,1006.8 465.2,991.0 466.8,998.5 467.9,991.0 469.4,988.8 470.9,1001.5 472.3,973.0 473.5,1006.0 474.7,1015.0 476.1,985.0 477.6,962.5 478.4,925.0 479.5,905.5 480.7,917.5 482.2,922.0 483.6,928.0 485.1,932.5 486.6,947.5 488.2,985.0 489.7,997.0 491.2,1012.0 492.6,1005.2 494.1,1021.0 495.6,1013.5 497.1,1004.5 498.6,995.5 500.1,992.5 501.2,995.5 502.4,987.2 503.8,1009.0 505.2,1017.2 506.3,1021.0 507.5,1016.5 509.0,1019.5 510.5,1007.5 512.0,964.0 513.2,948.2 514.2,956.5 515.8,964.0 517.0,982.0 518.5,997.0 520.0,998.5 521.3,1019.5 522.8,1034.5 524.0,1039.0 525.5,1040.5 526.7,1015.0 528.0,1028.5 529.5,1004.5 530.8,996.2 532.2,1003.0 534.2,1012.0 536.0,1024.8 538.0,1025.5 539.0,1030.8 540.5,1039.8 542.0,1030.0 543.0,1033.0 544.5,1030.0 546.5,1027.0 548.8,1027.0 550.2,1036.0 551.5,1037.5 552.8,1029.2 554.0,1045.0 555.5,1039.0 556.7,1045.8 558.2,1045.8 559.5,1020.2 560.8,1022.5 562.2,1041.2 563.8,1033.0 565.0,1039.0 566.5,1035.2 568.0,1036.0 569.5,1038.2 570.8,1045.0 572.3,1045.0 573.5,1049.5 574.7,1052.5 576.0,1021.0 577.5,1010.5 579.0,1003.0 580.5,988.0 581.8,985.0 583.2,997.0 584.3,1006.0 585.8,973.0 587.0,997.0 588.5,1018.0 590.0,1025.5 592.0,1025.2 593.8,1024.0 595.0,1000.0 596.5,999.2 597.8,995.5 599.5,991.0 600.8,990.2 602.0,1006.0 603.5,1006.8 605.0,1005.2 606.5,1018.0 607.7,1024.8 609.0,1018.0 610.5,1004.5 611.8,1003.8 613.2,994.0 614.5,990.2 615.8,1000.0 617.3,1015.0 618.8,1018.0 620.0,1030.0 621.5,1031.5 622.8,1033.0 624.0,1036.0 625.2,1004.5 626.7,1003.0 628.2,991.0 629.5,985.0 630.8,973.0 632.2,982.0 633.5,988.0 635.0,989.5 636.5,1022.5 637.8,1030.0 639.0,1034.5 640.5,1024.0 642.0,1015.8 643.2,1027.8 644.5,1018.0 645.8,1020.2 647.2,1006.0 648.8,1013.5 650.0,1027.0 651.0,1024.0 652.5,1042.0 654.0,1039.8 655.2,1020.2 656.7,1036.0 658.5,1037.5 659.7,1039.0 661.0,1031.5 662.2,1042.0 663.5,1024.0 665.0,1038.2 666.3,1037.5 667.8,1021.0 669.5,1023.2 670.8,1024.0 672.0,1029.2 673.5,1009.0 674.7,985.0 676.0,970.0 677.2,973.8 678.8,958.0 680.2,964.0 681.8,977.5 683.5,994.0 685.0,1007.5 686.5,1019.5 688.2,1030.0 689.5,1009.8 690.8,1030.0 692.0,1010.5 693.0,970.0 694.2,920.0 695.5,870.5 697.8,920.0 698.5,932.5 699.8,967.0 701.2,961.0 702.8,994.0 704.5,1012.8 706.2,1003.0 708.0,985.0 709.8,967.0 711.0,964.8 712.8,967.0 714.0,979.0 715.5,985.0 717.0,992.5 718.5,1012.0 719.5,997.0 720.8,1015.0 722.5,1015.8 723.8,1016.5 725.2,1006.0 726.8,979.0 728.2,955.0 729.5,949.8 730.8,964.0 732.0,981.2 733.2,961.0 734.5,985.0 736.0,1003.5 737.5,990.8 739.0,1012.5 740.2,1014.0 741.7,1023.0 743.2,1017.0 744.5,1014.0 745.8,1011.8 747.0,1009.5 748.5,1019.2 750.0,1018.5 751.5,1028.2 752.8,1023.0 754.0,1035.0 755.5,1037.2 757.0,1041.0 758.5,1033.5 760.0,1011.0 761.5,999.0 763.3,982.5 764.8,984.8 766.5,997.5 768.2,1014.0 769.8,1029.0 771.2,1026.0 773.0,1030.5 774.2,1023.0 775.8,1022.2 777.2,1006.5 778.8,1003.5 780.0,1004.2 781.5,1011.8 782.8,1006.5 784.3,1029.0 785.5,1037.7 787.0,1033.5 788.5,1031.2 790.0,1011.0 791.5,975.0 792.7,945.0 793.8,932.2 795.2,942.0 796.8,954.0 798.2,978.0 800.0,1002.0 801.5,1004.2 802.5,1000.5 803.2,1032.0 804.5,985.5 805.8,997.5 807.0,981.0 808.8,963.0 810.2,966.0 811.8,967.5 813.2,984.0 814.8,991.5 815.8,984.8 817.0,1006.5 818.5,1008.8 819.5,1020.0 821.0,994.5 822.2,1006.5 823.5,994.5 825.0,1002.0 826.3,979.5 827.5,993.0 829.0,996.8 830.8,1000.5 832.3,1014.0 833.8,1029.0 835.0,1035.0 836.5,1029.0 838.0,1015.5 839.8,1002.0 841.3,951.0 842.5,970.5 844.0,973.5 845.5,960.0 847.0,951.8 848.2,975.0 848.8,990.0 850.0,1005.0 851.0,1016.2 852.5,999.0 854.0,1014.8 855.5,990.0 856.7,969.0 858.0,930.8 859.2,942.0 860.8,927.0 862.0,934.5 863.8,930.8 865.0,968.2" fill="none" stroke="#1f77b4" stroke-width="2.08" stroke-linejoin="round" stroke-linecap="square"/>
<polyline points="161.0,961.8 162.8,969.2 164.3,955.8 165.8,957.2 167.0,961.0 168.2,947.5 169.6,948.2 171.1,937.8 172.6,944.5 174.1,952.0 175.6,974.5 177.1,994.0 178.6,1004.5 179.8,1006.0 181.2,985.0 183.1,950.5 184.6,937.8 186.1,937.0 187.6,952.0 188.8,955.0 190.2,967.8 191.8,931.8 193.2,976.0 194.4,988.0 195.8,983.5 197.4,994.0 198.8,999.2 200.3,989.5 201.8,965.5 203.8,940.0 205.2,953.5 207.1,965.5 208.6,977.5 210.1,989.5 211.2,990.2 212.3,995.5 213.8,983.5 215.8,982.8 217.7,940.8 219.1,964.0 221.0,967.0 222.5,976.0 224.3,982.0 225.8,992.5 227.0,990.2 228.8,998.5 231.1,1009.0 232.2,976.0 233.3,961.8 234.5,960.2 236.0,964.0 237.2,964.8 238.7,970.0 240.5,972.2 242.8,977.5 243.9,988.0 245.4,1007.5 246.5,1008.2 248.0,985.0 249.2,971.5 250.6,968.5 252.1,970.8 254.0,966.2 255.8,967.0 257.8,976.0 259.6,997.0 261.5,1009.8 262.7,977.5 264.2,971.5 265.6,976.8 266.8,955.0 267.9,937.8 269.8,937.8 271.2,949.0 272.8,952.0 274.2,973.0 275.7,985.0 276.8,986.5 277.8,973.0 279.0,983.5 280.5,992.5 281.7,992.5 283.2,1005.2 284.6,988.0 285.8,986.5 287.2,970.0 288.8,952.0 290.2,967.0 291.8,983.5 293.2,994.0 294.3,999.2 295.8,995.5 297.0,985.0 298.2,970.8 299.6,971.5 301.1,933.2 302.6,943.0 304.2,955.0 306.0,970.0 308.2,991.0 310.5,1007.5 312.0,995.5 313.5,1006.0 315.0,1001.5 317.2,994.0 318.8,973.8 320.2,977.5 321.4,985.8 322.8,980.5 324.3,992.5 325.8,1001.5 327.0,1000.0 328.5,1010.5 330.0,1000.0 331.5,1001.5 333.0,1004.5 334.8,1003.8 336.4,999.2 337.8,1007.5 339.0,1011.2 340.5,1007.5 342.0,1010.5 343.5,1012.8 344.7,1009.0 346.1,977.5 347.2,949.0 348.8,947.5 350.2,961.0 351.4,961.8 352.8,937.8 354.3,970.0 355.8,982.8 357.0,967.0 358.5,988.0 360.0,1002.2 361.5,971.5 363.0,970.0 364.2,940.0 365.6,915.2 367.1,925.0 368.2,929.5 369.8,930.2 371.2,946.0 372.8,958.0 374.2,973.0 375.8,979.8 376.8,976.0 378.0,969.2 379.2,979.8 380.7,955.0 382.1,917.5 383.2,898.0 384.8,893.5 386.2,922.0 387.8,932.5 389.2,967.0 391.0,995.5 392.5,992.5 394.0,997.0 395.5,952.0 396.7,985.0 398.2,976.0 399.6,972.2 401.5,975.2 403.4,974.5 405.2,993.2 406.4,936.2 407.9,985.0 409.3,1015.0 410.8,1009.0 412.0,965.5 413.2,997.0 414.6,988.0 416.1,964.8 417.6,989.5 418.8,985.0 420.6,997.0 422.1,1000.0 424.3,1019.5 425.8,995.5 427.0,1003.0 428.5,1015.0 430.0,1000.0 431.2,982.8 432.2,982.0 433.8,961.8 435.2,979.0 436.4,988.0 437.8,982.0 439.3,995.5 440.5,997.0 442.0,1003.0 443.5,977.5 445.0,967.0 446.2,963.2 447.2,914.5 448.8,932.5 450.2,943.0 451.8,950.5 453.2,970.0 454.4,963.2 455.8,985.0 457.0,985.0 458.5,991.0 460.8,991.8 461.8,955.0 462.7,929.5 463.8,970.0 465.2,946.0 466.8,958.0 467.9,946.0 469.4,940.8 470.9,960.2 472.3,907.8 473.5,966.2 474.7,965.5 476.1,925.0 476.9,920.0 479.0,835.5 480.5,850.0 481.8,850.5 483.0,859.0 484.7,862.0 486.0,876.0 487.1,920.0 488.5,935.5 490.0,955.0 491.2,965.5 492.7,958.0 494.2,976.0 495.6,967.0 497.1,947.5 498.6,937.0 499.8,935.5 500.9,938.5 502.3,932.5 503.8,955.0 505.2,968.5 506.3,979.0 507.5,971.5 509.0,970.0 510.2,955.0 511.2,917.5 512.3,895.0 513.2,879.5 514.7,899.5 516.0,907.0 517.2,932.5 518.8,950.5 520.0,952.0 521.3,973.0 522.8,989.5 524.3,1003.0 525.5,1000.0 526.7,974.5 528.0,985.8 529.2,955.0 530.8,946.0 532.2,952.0 534.2,958.0 536.0,977.5 538.2,988.0 540.2,997.8 542.0,985.0 543.0,991.0 544.5,982.8 546.0,985.0 547.7,991.0 549.0,990.2 550.5,997.0 552.0,995.5 553.5,1000.0 554.3,1009.8 555.8,1007.5 557.0,1013.5 558.2,1000.0 559.5,982.0 561.0,968.5 562.2,999.2 563.8,983.5 565.2,991.0 566.8,991.8 568.0,985.0 569.5,998.5 571.2,1006.0 573.5,1013.5 575.0,997.0 576.2,971.5 578.0,961.0 580.2,937.0 581.8,925.8 583.0,943.0 584.3,955.0 585.8,916.8 587.0,940.0 588.5,964.0 590.0,982.0 591.5,983.5 593.8,979.0 595.0,944.5 596.3,953.5 597.8,940.0 599.0,928.8 600.8,928.0 602.0,940.0 603.5,952.0 605.8,964.0 607.5,977.5 608.8,976.0 610.2,946.0 611.8,945.2 613.0,924.2 614.5,926.5 615.8,940.0 617.8,965.5 619.0,976.0 620.5,988.0 621.8,990.2 622.8,988.0 624.0,1003.0 625.2,961.0 626.7,953.5 628.2,932.5 629.5,925.0 630.8,919.0 632.2,926.5 633.5,941.5 635.0,943.8 636.5,968.5 637.8,970.0 639.0,989.5 640.2,973.0 641.2,976.0 642.8,994.0 644.2,971.5 645.8,964.0 647.0,952.0 648.3,965.5 649.8,977.5 651.8,991.0 654.0,997.0 655.5,976.0 656.7,989.5 658.0,988.8 659.5,1001.5 661.0,996.2 662.2,1002.2 663.5,985.0 664.8,986.5 666.3,976.0 667.8,944.5 669.3,961.0 670.8,965.5 672.0,970.8 673.5,955.0 674.7,932.5 675.8,899.5 677.0,907.8 678.8,892.0 680.2,910.0 682.0,925.0 683.5,937.0 685.0,955.0 686.5,973.0 688.2,994.0 689.5,968.5 690.8,988.0 691.8,955.0 692.5,920.0 695.0,808.1 700.5,920.0 701.0,925.0 702.3,922.0 703.5,955.0 704.7,976.0 706.2,964.0 708.0,946.0 709.8,926.5 711.5,929.5 712.8,932.5 714.0,922.0 715.5,955.0 717.0,964.0 718.5,980.5 719.5,967.0 721.0,988.0 722.7,985.0 724.0,988.8 725.2,964.0 726.8,934.0 728.2,917.5 729.5,910.8 730.8,925.0 732.0,937.0 733.2,913.8 734.5,916.0 736.0,966.0 737.5,956.2 739.0,985.5 740.2,969.8 741.7,998.2 743.2,981.0 744.5,973.5 745.8,970.5 747.0,963.8 748.5,976.5 750.0,981.0 751.5,988.5 752.8,989.2 754.0,1004.2 755.5,1000.5 757.0,1005.8 758.5,984.0 760.0,966.0 761.5,954.0 763.3,934.5 764.8,945.0 766.5,963.0 768.2,981.0 770.2,996.0 771.7,991.5 773.2,997.5 774.5,988.5 775.8,984.0 777.2,965.2 778.8,964.5 780.0,963.8 781.5,976.5 782.8,972.0 784.3,997.5 785.5,1007.2 787.0,998.2 788.5,996.0 790.0,966.0 791.5,924.0 792.7,891.0 793.8,884.2 795.2,895.5 796.8,904.5 798.2,925.5 800.0,954.0 801.5,964.5 802.5,951.8 803.5,993.0 804.5,927.0 805.8,951.8 807.0,930.0 808.8,909.8 810.2,918.8 811.8,919.5 813.2,934.5 814.8,950.2 815.8,931.5 817.0,951.0 818.2,963.0 819.5,981.0 821.0,955.5 822.2,964.5 823.5,958.5 825.0,960.8 826.3,933.0 827.5,949.5 829.0,954.0 830.8,960.0 832.3,975.0 834.0,990.0 836.0,997.5 837.5,975.0 839.0,963.0 840.2,945.0 841.3,892.5 842.5,912.0 844.0,928.5 845.2,922.5 847.0,903.0 848.2,930.0 848.8,943.5 850.5,963.8 852.2,954.0 853.7,971.2 855.2,942.0 856.5,919.5 858.0,930.0" fill="none" stroke="#ff7f0e" stroke-width="2.08" stroke-linejoin="round" stroke-linecap="square"/>
</g>
<g stroke="#000" stroke-width="1.11">
<line x1="134.5" y1="1068.5" x2="134.5" y2="1073.9"/>
<line x1="216.5" y1="1068.5" x2="216.5" y2="1073.9"/>
<line x1="298.5" y1="1068.5" x2="298.5" y2="1073.9"/>
<line x1="381.5" y1="1068.5" x2="381.5" y2="1073.9"/>
<line x1="463.5" y1="1068.5" x2="463.5" y2="1073.9"/>
<line x1="545.5" y1="1068.5" x2="545.5" y2="1073.9"/>
<line x1="627.5" y1="1068.5" x2="627.5" y2="1073.9"/>
<line x1="709.5" y1="1068.5" x2="709.5" y2="1073.9"/>
<line x1="791.5" y1="1068.5" x2="791.5" y2="1073.9"/>
<line x1="873.5" y1="1068.5" x2="873.5" y2="1073.9"/>
<line x1="120.1" y1="1020.5" x2="125.5" y2="1020.5"/>
<line x1="120.1" y1="963.5" x2="125.5" y2="963.5"/>
<line x1="120.1" y1="907.5" x2="125.5" y2="907.5"/>
<line x1="120.1" y1="851.5" x2="125.5" y2="851.5"/>
<rect x="125.5" y="796.5" width="775.0" height="272.0" fill="none"/>
</g>
<text x="115.70" y="1026" text-anchor="end">1</text>
<text x="115.10" y="969" text-anchor="end">2</text>
<text x="115.20" y="913" text-anchor="end">3</text>
<text x="115.90" y="857" text-anchor="end">4</text>
<text transform="translate(97,933.1) rotate(-90)" text-anchor="middle">Maximum Value</text>
<text x="133.96" y="1089" text-anchor="middle" letter-spacing="-0.37">1980</text>
<text x="216.10" y="1089" text-anchor="middle" letter-spacing="-0.37">1985</text>
<text x="298.20" y="1089" text-anchor="middle" letter-spacing="-0.37">1990</text>
<text x="380.30" y="1089" text-anchor="middle" letter-spacing="-0.37">1995</text>
<text x="462.39" y="1089" text-anchor="middle" letter-spacing="0.2">2000</text>
<text x="544.53" y="1089" text-anchor="middle" letter-spacing="0.2">2005</text>
<text x="626.63" y="1089" text-anchor="middle" letter-spacing="0.2">2010</text>
<text x="708.73" y="1089" text-anchor="middle" letter-spacing="0.2">2015</text>
<text x="790.83" y="1089" text-anchor="middle" letter-spacing="0.2">2020</text>
<text x="872.97" y="1089" text-anchor="middle" letter-spacing="0.2">2025</text>
<text x="512" y="1108" text-anchor="middle">Date</text>
</svg>
</body></html>
